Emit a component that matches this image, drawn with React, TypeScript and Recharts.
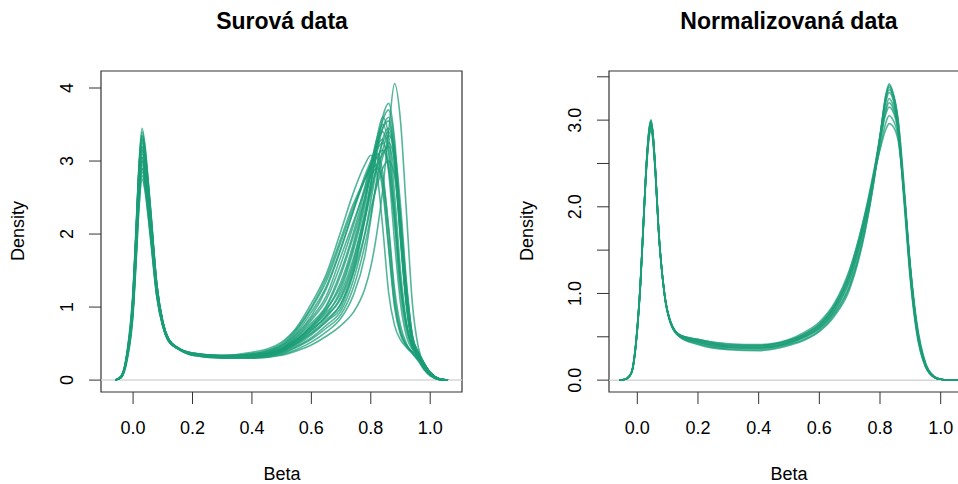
import React from "react";
import { LineChart, Line, XAxis, YAxis, ReferenceLine, ReferenceArea } from "recharts";

// x grid (Beta) for the raw panel
const betaRaw = [
  -0.06, -0.04, -0.02, 0, 0.01, 0.02, 0.03, 0.04, 0.05, 0.06, 0.08, 0.1, 0.12, 0.15, 0.2, 0.3, 0.4, 0.5,
  0.55, 0.6, 0.65, 0.7, 0.74, 0.78, 0.8, 0.82, 0.84, 0.86, 0.88, 0.9, 0.92, 0.94, 0.96, 0.98, 1.0, 1.03, 1.06,
];

// density curves, raw data (one array per sample)
const raw01 = [0, 0.04, 0.33, 1.03, 1.78, 2.58, 3.0, 2.82, 2.45, 2.03, 1.2, 0.76, 0.54, 0.44, 0.34, 0.3, 0.3, 0.34, 0.4, 0.48, 0.6, 0.75, 0.92, 1.25, 1.55, 2.0, 2.6, 3.4, 4.06, 3.55, 2.3, 1.05, 0.45, 0.22, 0.1, 0.02, 0];
const raw02 = [0, 0.05, 0.35, 1.1, 1.9, 2.75, 3.2, 3.0, 2.6, 2.15, 1.25, 0.78, 0.55, 0.44, 0.37, 0.32, 0.32, 0.38, 0.48, 0.62, 0.8, 1.0, 1.45, 2.2, 2.65, 3.15, 3.6, 3.79, 3.3, 2.2, 1.2, 0.55, 0.36, 0.22, 0.1, 0.02, 0];
const raw03 = [0, 0.05, 0.36, 1.15, 2.0, 2.88, 3.35, 3.13, 2.72, 2.25, 1.3, 0.8, 0.56, 0.44, 0.36, 0.33, 0.34, 0.41, 0.53, 0.7, 0.86, 1.15, 1.6, 2.3, 2.7, 3.1, 3.45, 3.6, 3.1, 2.0, 1.05, 0.52, 0.35, 0.21, 0.1, 0.02, 0];
const raw04 = [0, 0.04, 0.32, 1.01, 1.75, 2.54, 2.95, 2.77, 2.41, 2.0, 1.18, 0.75, 0.54, 0.44, 0.35, 0.31, 0.31, 0.37, 0.46, 0.58, 0.75, 0.95, 1.35, 2.0, 2.45, 2.9, 3.3, 3.45, 3.1, 2.15, 1.15, 0.55, 0.36, 0.22, 0.1, 0.02, 0];
const raw05 = [0, 0.05, 0.34, 1.07, 1.84, 2.67, 3.1, 2.91, 2.52, 2.09, 1.22, 0.77, 0.54, 0.44, 0.36, 0.33, 0.35, 0.46, 0.63, 0.88, 1.25, 1.8, 2.3, 2.8, 3.0, 3.2, 3.3, 2.85, 1.9, 1.05, 0.6, 0.42, 0.32, 0.18, 0.08, 0.01, 0];
const raw06 = [0, 0.04, 0.31, 0.98, 1.69, 2.45, 2.85, 2.68, 2.33, 1.94, 1.16, 0.74, 0.53, 0.43, 0.34, 0.3, 0.3, 0.35, 0.42, 0.52, 0.66, 0.85, 1.15, 1.7, 2.2, 2.75, 3.15, 3.35, 3.15, 2.4, 1.35, 0.62, 0.38, 0.23, 0.11, 0.02, 0];
const raw07 = [0, 0.05, 0.37, 1.18, 2.05, 2.95, 3.45, 3.22, 2.78, 2.3, 1.32, 0.8, 0.56, 0.44, 0.37, 0.33, 0.34, 0.43, 0.58, 0.78, 1.02, 1.5, 2.0, 2.6, 2.95, 3.3, 3.5, 3.2, 2.35, 1.35, 0.75, 0.45, 0.33, 0.2, 0.09, 0.01, 0];
const raw08 = [0, 0.05, 0.36, 1.13, 1.96, 2.84, 3.3, 3.08, 2.68, 2.22, 1.28, 0.79, 0.55, 0.44, 0.35, 0.33, 0.36, 0.48, 0.68, 0.98, 1.35, 1.9, 2.35, 2.75, 2.95, 3.05, 2.7, 1.85, 1.05, 0.65, 0.48, 0.38, 0.28, 0.15, 0.06, 0.01, 0];
const raw09 = [0, 0.04, 0.3, 0.95, 1.63, 2.37, 2.75, 2.59, 2.26, 1.88, 1.13, 0.73, 0.53, 0.43, 0.36, 0.34, 0.38, 0.52, 0.72, 1.05, 1.45, 2.05, 2.55, 2.95, 3.08, 2.85, 2.1, 1.2, 0.75, 0.55, 0.45, 0.36, 0.26, 0.14, 0.06, 0.01, 0];
const raw10 = [0, 0.04, 0.33, 1.05, 1.81, 2.62, 3.05, 2.86, 2.49, 2.06, 1.21, 0.76, 0.54, 0.44, 0.35, 0.32, 0.33, 0.42, 0.55, 0.75, 1.0, 1.45, 1.95, 2.5, 2.8, 3.05, 3.15, 2.9, 2.2, 1.3, 0.75, 0.45, 0.33, 0.19, 0.08, 0.01, 0];
const raw11 = [0, 0.05, 0.35, 1.12, 1.93, 2.8, 3.25, 3.04, 2.64, 2.18, 1.27, 0.79, 0.55, 0.44, 0.36, 0.32, 0.33, 0.4, 0.5, 0.64, 0.8, 1.05, 1.45, 2.0, 2.35, 2.65, 2.9, 3.0, 2.8, 2.1, 1.25, 0.6, 0.38, 0.23, 0.11, 0.02, 0];
const raw12 = [0, 0.04, 0.32, 1.0, 1.72, 2.5, 2.9, 2.73, 2.37, 1.97, 1.17, 0.75, 0.53, 0.43, 0.34, 0.31, 0.33, 0.44, 0.61, 0.85, 1.15, 1.7, 2.15, 2.6, 2.8, 2.9, 2.75, 2.1, 1.25, 0.75, 0.5, 0.38, 0.3, 0.17, 0.07, 0.01, 0];
const raw13 = [0, 0.05, 0.36, 1.16, 2.02, 2.92, 3.4, 3.18, 2.75, 2.28, 1.3, 0.8, 0.56, 0.45, 0.37, 0.34, 0.35, 0.43, 0.56, 0.72, 0.92, 1.2, 1.65, 2.25, 2.6, 2.9, 3.1, 3.2, 2.85, 1.95, 1.05, 0.52, 0.36, 0.21, 0.1, 0.02, 0];
const raw14 = [0, 0.05, 0.34, 1.08, 1.87, 2.71, 3.15, 2.95, 2.56, 2.12, 1.24, 0.77, 0.55, 0.44, 0.36, 0.32, 0.32, 0.4, 0.52, 0.68, 0.88, 1.25, 1.75, 2.4, 2.85, 3.3, 3.6, 3.35, 2.55, 1.5, 0.8, 0.46, 0.34, 0.2, 0.09, 0.01, 0];
const raw15 = [0, 0.04, 0.3, 0.95, 1.7, 2.6, 3.05, 2.86, 2.49, 2.06, 1.21, 0.76, 0.54, 0.44, 0.36, 0.33, 0.34, 0.42, 0.55, 0.74, 0.97, 1.3, 1.8, 2.45, 2.85, 3.2, 3.45, 3.55, 3.0, 1.9, 1.0, 0.5, 0.35, 0.21, 0.1, 0.02, 0];
const raw16 = [0, 0.05, 0.38, 1.2, 2.0, 2.8, 3.2, 2.98, 2.58, 2.13, 1.25, 0.78, 0.55, 0.44, 0.35, 0.32, 0.34, 0.44, 0.59, 0.82, 1.1, 1.6, 2.1, 2.65, 2.95, 3.15, 3.25, 2.95, 2.15, 1.2, 0.68, 0.44, 0.33, 0.19, 0.08, 0.01, 0];
const raw17 = [0, 0.04, 0.32, 1.0, 1.72, 2.5, 2.9, 2.73, 2.37, 1.97, 1.17, 0.75, 0.53, 0.43, 0.35, 0.33, 0.35, 0.47, 0.65, 0.93, 1.28, 1.82, 2.3, 2.75, 2.95, 3.1, 2.85, 2.05, 1.15, 0.68, 0.48, 0.38, 0.29, 0.16, 0.07, 0.01, 0];
const raw18 = [0, 0.06, 0.4, 1.25, 2.1, 2.9, 3.3, 3.06, 2.65, 2.2, 1.28, 0.79, 0.55, 0.44, 0.36, 0.32, 0.32, 0.39, 0.5, 0.65, 0.83, 1.05, 1.5, 2.2, 2.7, 3.2, 3.55, 3.7, 3.2, 2.05, 1.1, 0.53, 0.36, 0.22, 0.1, 0.02, 0];
const raw19 = [0, 0.04, 0.33, 1.03, 1.78, 2.58, 3.0, 2.82, 2.45, 2.03, 1.2, 0.76, 0.54, 0.44, 0.36, 0.32, 0.33, 0.41, 0.54, 0.72, 0.95, 1.35, 1.85, 2.5, 2.9, 3.25, 3.4, 3.1, 2.3, 1.35, 0.75, 0.45, 0.33, 0.2, 0.09, 0.01, 0];
const raw20 = [0, 0.05, 0.34, 1.08, 1.87, 2.71, 3.15, 2.95, 2.56, 2.12, 1.24, 0.77, 0.55, 0.44, 0.35, 0.31, 0.31, 0.36, 0.45, 0.56, 0.71, 0.9, 1.25, 1.85, 2.25, 2.7, 3.05, 3.25, 3.0, 2.25, 1.3, 0.6, 0.37, 0.22, 0.1, 0.02, 0];
const raw21 = [0, 0.03, 0.27, 0.9, 1.6, 2.38, 2.8, 2.63, 2.3, 1.91, 1.14, 0.74, 0.53, 0.43, 0.35, 0.33, 0.36, 0.5, 0.7, 1.0, 1.4, 1.95, 2.4, 2.75, 2.9, 2.95, 2.6, 1.8, 1.0, 0.62, 0.46, 0.37, 0.27, 0.15, 0.06, 0.01, 0];
const raw22 = [0, 0.05, 0.36, 1.15, 2.0, 2.88, 3.35, 3.13, 2.72, 2.25, 1.3, 0.8, 0.56, 0.44, 0.37, 0.33, 0.33, 0.4, 0.51, 0.68, 0.88, 1.12, 1.55, 2.2, 2.55, 2.95, 3.25, 3.4, 3.0, 2.0, 1.05, 0.52, 0.36, 0.21, 0.1, 0.02, 0];

// x grid for the normalized panel
const betaNorm = [
  -0.06, -0.04, -0.02, 0, 0.01, 0.02, 0.03, 0.04, 0.045, 0.05, 0.06, 0.07, 0.09, 0.11, 0.14, 0.2, 0.3, 0.4, 0.5,
  0.55, 0.6, 0.65, 0.7, 0.75, 0.78, 0.8, 0.82, 0.83, 0.84, 0.86, 0.88, 0.9, 0.92, 0.95, 0.98, 1.0, 1.03, 1.06,
];

const norm01 = [0, 0.01, 0.08, 0.6, 1.1, 1.8, 2.5, 2.93, 3.0, 2.9, 2.4, 1.75, 0.98, 0.65, 0.5, 0.42, 0.36, 0.35, 0.41, 0.47, 0.57, 0.76, 1.08, 1.72, 2.3, 2.8, 3.3, 3.42, 3.35, 2.95, 2.1, 1.2, 0.6, 0.16, 0.03, 0.01, 0, 0];
const norm02 = [0, 0.01, 0.09, 0.62, 1.12, 1.82, 2.48, 2.9, 2.97, 2.88, 2.38, 1.74, 0.97, 0.66, 0.51, 0.44, 0.38, 0.37, 0.43, 0.5, 0.6, 0.8, 1.15, 1.8, 2.36, 2.8, 3.28, 3.38, 3.3, 2.88, 2.02, 1.15, 0.56, 0.15, 0.03, 0.01, 0, 0];
const norm03 = [0, 0.01, 0.08, 0.58, 1.08, 1.78, 2.45, 2.86, 2.92, 2.84, 2.36, 1.72, 0.99, 0.67, 0.52, 0.46, 0.4, 0.39, 0.45, 0.52, 0.63, 0.85, 1.22, 1.88, 2.4, 2.82, 3.22, 3.32, 3.27, 2.9, 2.08, 1.2, 0.6, 0.17, 0.03, 0.01, 0, 0];
const norm04 = [0, 0.01, 0.08, 0.6, 1.1, 1.8, 2.5, 2.92, 3.0, 2.9, 2.42, 1.76, 0.98, 0.66, 0.5, 0.43, 0.37, 0.37, 0.43, 0.5, 0.61, 0.81, 1.16, 1.82, 2.35, 2.75, 3.15, 3.25, 3.2, 2.9, 2.15, 1.28, 0.65, 0.18, 0.03, 0.01, 0, 0];
const norm05 = [0, 0.01, 0.08, 0.59, 1.09, 1.8, 2.47, 2.88, 2.95, 2.87, 2.4, 1.75, 0.99, 0.67, 0.52, 0.46, 0.4, 0.4, 0.46, 0.53, 0.65, 0.87, 1.26, 1.92, 2.42, 2.78, 3.08, 3.15, 3.12, 2.85, 2.12, 1.27, 0.64, 0.18, 0.03, 0.01, 0, 0];
const norm06 = [0, 0.01, 0.07, 0.57, 1.06, 1.75, 2.42, 2.82, 2.88, 2.8, 2.35, 1.72, 0.98, 0.67, 0.52, 0.47, 0.41, 0.4, 0.46, 0.53, 0.64, 0.85, 1.22, 1.85, 2.33, 2.68, 2.98, 3.05, 3.02, 2.8, 2.1, 1.28, 0.66, 0.19, 0.04, 0.01, 0, 0];
const norm07 = [0, 0.01, 0.08, 0.6, 1.1, 1.79, 2.46, 2.87, 2.93, 2.85, 2.38, 1.74, 0.99, 0.67, 0.52, 0.47, 0.42, 0.41, 0.47, 0.55, 0.67, 0.89, 1.28, 1.9, 2.36, 2.66, 2.9, 2.96, 2.94, 2.76, 2.12, 1.32, 0.7, 0.2, 0.04, 0.01, 0, 0];
const norm08 = [0, 0.01, 0.08, 0.61, 1.11, 1.81, 2.49, 2.91, 2.98, 2.89, 2.41, 1.75, 0.97, 0.65, 0.5, 0.41, 0.35, 0.34, 0.4, 0.46, 0.56, 0.74, 1.05, 1.7, 2.3, 2.8, 3.25, 3.35, 3.32, 3.0, 2.22, 1.3, 0.64, 0.17, 0.03, 0.01, 0, 0];
const norm09 = [0, 0.01, 0.08, 0.6, 1.1, 1.8, 2.48, 2.9, 2.96, 2.88, 2.4, 1.75, 0.98, 0.66, 0.51, 0.44, 0.38, 0.37, 0.42, 0.49, 0.59, 0.78, 1.1, 1.75, 2.32, 2.82, 3.3, 3.4, 3.34, 2.98, 2.15, 1.22, 0.6, 0.16, 0.03, 0.01, 0, 0];
const norm10 = [0, 0.01, 0.08, 0.59, 1.09, 1.79, 2.46, 2.87, 2.94, 2.86, 2.39, 1.74, 0.98, 0.66, 0.51, 0.45, 0.39, 0.38, 0.44, 0.51, 0.62, 0.83, 1.2, 1.86, 2.38, 2.76, 3.12, 3.2, 3.16, 2.88, 2.14, 1.28, 0.65, 0.18, 0.03, 0.01, 0, 0];

const rawSeries = [
  raw01, raw02, raw03, raw04, raw05, raw06, raw07, raw08, raw09, raw10, raw11,
  raw12, raw13, raw14, raw15, raw16, raw17, raw18, raw19, raw20, raw21, raw22,
];
const normSeries = [norm01, norm02, norm03, norm04, norm05, norm06, norm07, norm08, norm09, norm10];

const xTicks = [0, 0.2, 0.4, 0.6, 0.8, 1.0];
const rawYTicks = [0, 1, 2, 3, 4];
const normYTicks = [0, 0.5, 1, 1.5, 2, 2.5, 3, 3.5];

const GREEN = "#1B9E77";
const FONT = "'Liberation Sans', Arial, Helvetica, sans-serif";

const toRows = (grid: number[], series: number[][]) =>
  grid.map((b, i) => {
    const row: any = { beta: b };
    series.forEach((s, k) => (row["s" + k] = s[i]));
    return row;
  });

const XTick = (props: any) => (
  <text x={props.x} y={props.y} dy="0.35em" textAnchor="middle" fontSize={18} fill="#000" fontFamily={FONT}>
    {props.payload.value.toFixed(1)}
  </text>
);

const makeYTick = (fmt: (v: number) => string) => (props: any) => {
  const label = fmt(props.payload.value);
  if (!label) return <g />;
  return (
    <text
      x={props.x}
      y={props.y}
      dy="0.35em"
      textAnchor="middle"
      fontSize={18}
      fill="#000"
      fontFamily={FONT}
      transform={`rotate(-90, ${props.x}, ${props.y})`}
    >
      {label}
    </text>
  );
};

const Panel = ({ rows, count, xDomain, yDomain, yTicks, yFmt, width, marginLeft, marginRight }: any) => (
  <LineChart
    width={width}
    height={484}
    data={rows}
    margin={{ top: 71, right: marginRight, bottom: 42, left: marginLeft }}
  >
    <XAxis
      dataKey="beta"
      type="number"
      domain={xDomain}
      allowDataOverflow
      ticks={xTicks}
      interval={0}
      height={50}
      axisLine={false}
      tickSize={12}
      tickMargin={24}
      tickLine={{ stroke: "#333", strokeWidth: 1 }}
      tick={<XTick />}
    />
    <YAxis
      type="number"
      domain={yDomain}
      allowDataOverflow
      ticks={yTicks}
      interval={0}
      width={60}
      axisLine={false}
      tickSize={12}
      tickMargin={22}
      tickLine={{ stroke: "#333", strokeWidth: 1 }}
      tick={makeYTick(yFmt)}
    />
    <ReferenceLine y={0} stroke="#d6d6d6" strokeWidth={1.5} />
    {Array.from({ length: count }, (_, k) => (
      <Line
        key={k}
        dataKey={"s" + k}
        type="monotone"
        stroke={GREEN}
        strokeOpacity={0.75}
        strokeWidth={1.6}
        dot={false}
        activeDot={false}
        isAnimationActive={false}
      />
    ))}
    <ReferenceArea
      x1={xDomain[0]}
      x2={xDomain[1]}
      y1={yDomain[0]}
      y2={yDomain[1]}
      fill="none"
      stroke="#333"
      strokeWidth={1.2}
      ifOverflow="visible"
    />
  </LineChart>
);

const textBase: React.CSSProperties = { position: "absolute", fontFamily: FONT, color: "#000", whiteSpace: "nowrap" };

const Title = ({ cx, children }: any) => (
  <div style={{ ...textBase, left: cx - 200, width: 400, top: 8, textAlign: "center", fontSize: 23, fontWeight: 700 }}>
    {children}
  </div>
);

const XLabel = ({ cx }: any) => (
  <div style={{ ...textBase, left: cx - 100, width: 200, top: 464, textAlign: "center", fontSize: 18 }}>Beta</div>
);

const YLabel = ({ cx }: any) => (
  <div
    style={{
      ...textBase,
      left: cx - 100,
      top: 231 - 11,
      width: 200,
      height: 22,
      lineHeight: "22px",
      textAlign: "center",
      fontSize: 18,
      transform: "rotate(-90deg)",
    }}
  >
    Density
  </div>
);

export default function App() {
  const rawRows = toRows(betaRaw, rawSeries);
  const normRows = toRows(betaNorm, normSeries);
  return (
    <div
      style={{
        position: "fixed",
        left: 0,
        top: 0,
        width: 958,
        height: 484,
        overflow: "hidden",
        background: "#fff",
      }}
    >
      <div style={{ position: "absolute", left: 0, top: 0 }}>
        <Panel
          rows={rawRows}
          count={rawSeries.length}
          xDomain={[-0.108, 1.107]}
          yDomain={[-0.163, 4.233]}
          yTicks={rawYTicks}
          yFmt={(v: number) => String(v)}
          width={480}
          marginLeft={41}
          marginRight={18}
        />
      </div>
      <div style={{ position: "absolute", left: 480, top: 0 }}>
        <Panel
          rows={normRows}
          count={normSeries.length}
          xDomain={[-0.0933, 1.0966]}
          yDomain={[-0.137, 3.567]}
          yTicks={normYTicks}
          yFmt={(v: number) => (Number.isInteger(v) ? v.toFixed(1) : "")}
          width={520}
          marginLeft={69}
          marginRight={30}
        />
      </div>
      <Title cx={282}>Surová data</Title>
      <Title cx={789}>Normalizovaná data</Title>
      <XLabel cx={282} />
      <XLabel cx={789} />
      <YLabel cx={18} />
      <YLabel cx={527} />
    </div>
  );
}
